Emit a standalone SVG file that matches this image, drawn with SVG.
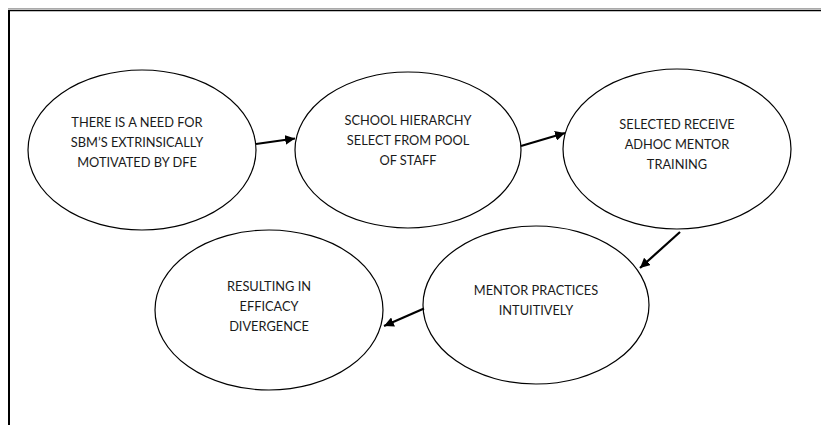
<svg xmlns="http://www.w3.org/2000/svg" width="821" height="425" viewBox="0 0 821 425">
<style>
.n ellipse{fill:#fff;stroke:#000;stroke-width:1.2}
.n text{font-family:Lato,"Liberation Sans",sans-serif;font-size:12.8px;fill:#1a1a1a;text-anchor:middle}
.c line{stroke:#000;stroke-width:2.2}
</style>
<defs>
<marker id="ah" viewBox="0 0 10 10" refX="10" refY="5" markerWidth="4.5" markerHeight="4.5" orient="auto" markerUnits="strokeWidth">
<path d="M0,0 L10,5 L0,10 z" fill="#000"/>
</marker>
</defs>
<rect width="821" height="425" fill="#fff"/>
<g id="frame">
<line x1="8" y1="8.5" x2="821" y2="8.5" stroke="#aaa" stroke-width="1"/>
<line x1="8" y1="10.5" x2="821" y2="10.5" stroke="#000" stroke-width="1.6"/>
<line x1="9" y1="10" x2="9" y2="425" stroke="#000" stroke-width="2"/>
</g>
<g id="n1" class="n">
<ellipse cx="142" cy="150" rx="114" ry="80"/>
<text x="137" y="127">THERE IS A NEED FOR</text>
<text x="137" y="147">SBM’S EXTRINSICALLY</text>
<text x="137" y="167">MOTIVATED BY DFE</text>
</g>
<g id="n2" class="n">
<ellipse cx="408" cy="150" rx="113" ry="78"/>
<text x="408" y="125">SCHOOL HIERARCHY</text>
<text x="408" y="145">SELECT FROM POOL</text>
<text x="408" y="165">OF STAFF</text>
</g>
<g id="n3" class="n">
<ellipse cx="677" cy="149" rx="114" ry="80"/>
<text x="677" y="129">SELECTED RECEIVE</text>
<text x="677" y="149">ADHOC MENTOR</text>
<text x="677" y="169">TRAINING</text>
</g>
<g id="n4" class="n">
<ellipse cx="536" cy="305" rx="113" ry="79"/>
<text x="536" y="295">MENTOR PRACTICES</text>
<text x="536" y="315">INTUITIVELY</text>
</g>
<g id="n5" class="n">
<ellipse cx="269" cy="310" rx="114" ry="80"/>
<text x="269" y="291">RESULTING IN</text>
<text x="269" y="311">EFFICACY</text>
<text x="269" y="331">DIVERGENCE</text>
</g>
<g id="connectors" class="c">
<line x1="256" y1="144" x2="295" y2="138.5" marker-end="url(#ah)"/>
<line x1="521" y1="146" x2="565" y2="133" marker-end="url(#ah)"/>
<line x1="680" y1="232" x2="640" y2="268" marker-end="url(#ah)"/>
<line x1="424" y1="308.5" x2="384" y2="326" marker-end="url(#ah)"/>
</g>
</svg>
